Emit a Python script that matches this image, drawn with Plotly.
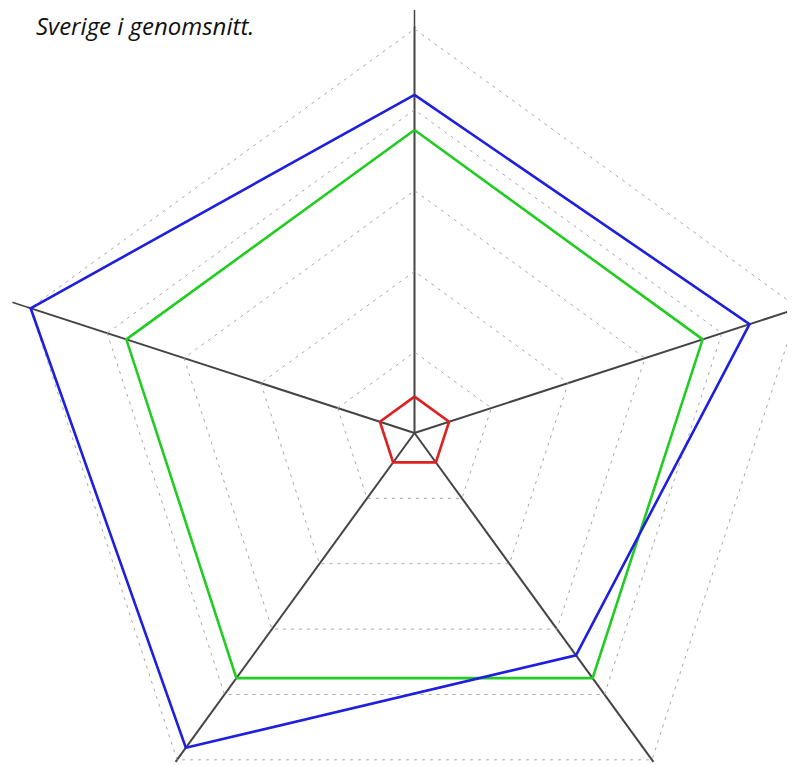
import math
import plotly.graph_objects as go

categories = ["Kategori 1", "Kategori 2", "Kategori 3", "Kategori 4", "Kategori 5"]
blue_values = [83.7, 87.2, 68.0, 96.3, 99.9]
green_values = [75, 75, 75, 75, 75]
red_values = [9, 9, 9, 9, 9]
grid_ticks = [20, 40, 60, 80, 100]
axis_end = 104.7
title_text = "Sverige i genomsnitt."

# page geometry (paper pixels; the page body adds an 8px margin)
W, H = 820, 840
cx, cy = 406.5, 425.0          # polar centre
scale = 4.04                   # px per radial unit
R1 = cx                        # main polar radius (fits left edge)
rmax1 = R1 / scale
R2 = axis_end * scale          # radius of helper polar for the longer axis lines
sector2 = [88, 163.5]

def closed(v):
    return list(v) + [v[0]]

theta = closed(categories)

fig = go.Figure()
fig.add_trace(go.Scatterpolar(r=closed(green_values), theta=theta, mode="lines",
                              line=dict(color="#22cc22", width=2.6), showlegend=False,
                              hoverinfo="skip"))
fig.add_trace(go.Scatterpolar(r=closed(blue_values), theta=theta, mode="lines",
                              line=dict(color="#1f1fe0", width=2.6), showlegend=False,
                              hoverinfo="skip"))
fig.add_trace(go.Scatterpolar(r=closed(red_values), theta=theta, mode="lines",
                              line=dict(color="#dd2020", width=2.6), showlegend=False,
                              hoverinfo="skip"))

# extension of the top and left axis lines beyond the outer ring
r0 = rmax1 - 0.1
fig.add_trace(go.Scatterpolar(r=[r0, axis_end, None, r0, axis_end],
                              theta=[categories[0], categories[0], None, categories[4], categories[4]],
                              mode="lines", line=dict(color="#444444", width=1.5),
                              showlegend=False, hoverinfo="skip", subplot="polar2"))

# domain of helper polar = bbox of its sector
a0, a1 = [math.radians(a) for a in sector2]
bx0 = min(math.cos(a0), math.cos(a1), 0)
bx1 = max(math.cos(a0), math.cos(a1), 0)
by0 = 0.0
by1 = 1.0
x_left2 = cx + R2 * bx0
x_right2 = cx + R2 * bx1
y_top2 = cy - R2 * by1
y_bot2 = cy - R2 * by0

common_ang = dict(categoryorder="array", categoryarray=categories,
                  rotation=90, direction="clockwise",
                  showticklabels=False, ticks="", showline=False)

fig.update_layout(
    width=W, height=H,
    margin=dict(l=0, r=0, t=0, b=0),
    paper_bgcolor="white",
    plot_bgcolor="white",
    polar=dict(
        domain=dict(x=[(cx - R1) / W, (cx + R1) / W],
                    y=[(H - cy - R1) / H, (H - cy + R1) / H]),
        bgcolor="white",
        gridshape="linear",
        radialaxis=dict(range=[0, rmax1], tickvals=grid_ticks, showticklabels=False,
                        ticks="", showline=False, showgrid=True,
                        gridcolor="#a8a8a8", griddash="3px,5px", gridwidth=1),
        angularaxis=dict(**common_ang, showgrid=True, gridcolor="#444444", gridwidth=1.5),
    ),
    polar2=dict(
        domain=dict(x=[x_left2 / W, x_right2 / W],
                    y=[(H - y_bot2) / H, (H - y_top2) / H]),
        sector=sector2,
        bgcolor="rgba(0,0,0,0)",
        radialaxis=dict(range=[0, axis_end], showticklabels=False, ticks="",
                        showline=False, showgrid=False),
        angularaxis=dict(**common_ang, showgrid=False),
    ),
    annotations=[dict(text=title_text, xref="paper", yref="paper",
                      x=27 / W, y=1, xanchor="left", yanchor="top",
                      showarrow=False, borderpad=0,
                      font=dict(family="Open Sans", size=24, color="#111111", style="italic"))],
)

fig.write_html("out.html")
